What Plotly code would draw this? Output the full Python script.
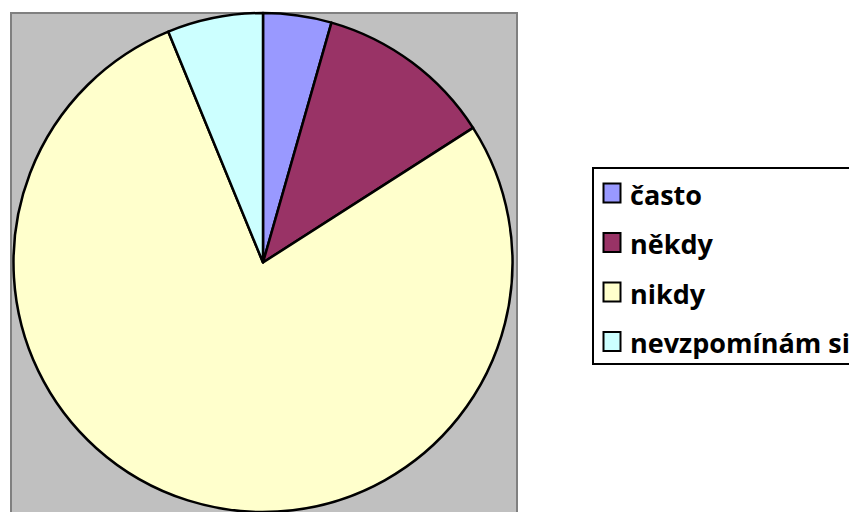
import plotly.graph_objects as go

labels = ["často", "někdy", "nikdy", "nevzpomínám si"]
values = [5, 13, 88, 7]
colors = ["#9999FF", "#993366", "#FFFFCC", "#CCFFFF"]

W, H = 849, 512

def px(x):
    return x / W

def py(y):
    return 1 - y / H

fig = go.Figure()
fig.add_trace(go.Pie(
    labels=labels, values=values, sort=False, direction="clockwise", rotation=0,
    marker=dict(colors=colors, line=dict(color="black", width=2.5)),
    textinfo="none", hoverinfo="label+value+percent", showlegend=False,
    domain=dict(x=[px(12), px(514)], y=[0, py(13)]),
))

shapes = [
    dict(type="rect", xref="paper", yref="paper", x0=px(11), x1=px(517), y0=-0.02, y1=py(13),
         fillcolor="#C0C0C0", line=dict(color="#808080", width=2), layer="below"),
    dict(type="rect", xref="paper", yref="paper", x0=px(593), x1=1.1, y0=py(364), y1=py(168),
         fillcolor="white", line=dict(color="black", width=2), layer="below"),
]
annotations = []
row_y = [193, 242.5, 292, 341.5]
for lab, col, yc in zip(labels, colors, row_y):
    shapes.append(dict(type="rect", xref="paper", yref="paper", x0=px(603.5), x1=px(620.5),
                       y0=py(yc + 9.5), y1=py(yc - 9.5), fillcolor=col,
                       line=dict(color="black", width=2)))
    annotations.append(dict(xref="paper", yref="paper", x=px(628), y=py(yc + 1), text="<b>" + lab + "</b>",
                            showarrow=False, xanchor="left", yanchor="middle",
                            font=dict(family="'Open Sans', sans-serif", size=27, color="black")))

fig.update_layout(
    width=W, height=H, margin=dict(l=0, r=0, t=0, b=0),
    paper_bgcolor="white", plot_bgcolor="white",
    shapes=shapes, annotations=annotations,
)
fig.write_html("out.html", config={"displayModeBar": False},
               post_script="document.body.style.margin='0';")
